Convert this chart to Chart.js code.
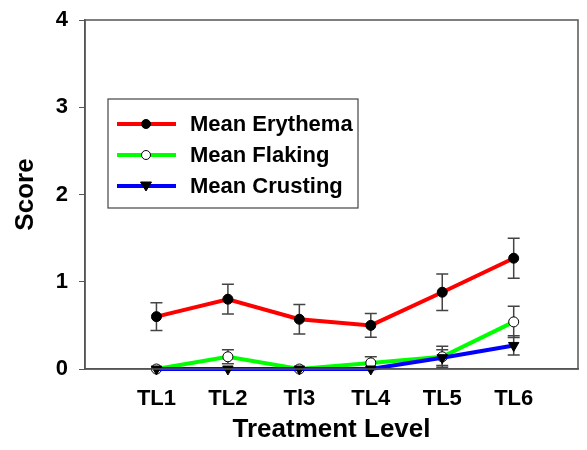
<!DOCTYPE html>
<html>
<head>
<meta charset="utf-8">
<script src="https://cdn.jsdelivr.net/npm/chart.js@4"></script>
<style>
  html, body { margin: 0; padding: 0; background: #fff; }
  #wrap { width: 587px; height: 450px; }
</style>
</head>
<body>
<div id="wrap"><canvas id="c" width="587" height="450"></canvas></div>
<script>
// Chart data
const levels = ["TL1", "TL2", "Tl3", "TL4", "TL5", "TL6"];
const erythema = [0.60, 0.80, 0.57, 0.50, 0.88, 1.27];
const erythemaErr = [0.16, 0.17, 0.17, 0.135, 0.21, 0.23];
const flaking = [0.0, 0.14, 0.0, 0.07, 0.14, 0.54];
const flakingErr = [0.0, 0.08, 0.0, 0.07, 0.12, 0.18];
const crusting = [0.0, 0.0, 0.0, 0.0, 0.13, 0.27];
const crustingErr = [0.0, 0.0, 0.0, 0.0, 0.09, 0.11];
const yTicks = [0, 1, 2, 3, 4];

const FONT = "'Liberation Sans', Arial, sans-serif";
const AXIS = '#555';

function toPoints(vals) {
    return vals.map((v, i) => ({ x: i + 1, y: v }));
}

// error bars, drawn through the chart's own scales
const errorBars = {
    id: 'errorBars',
    beforeDatasetsDraw(chart) {
        const { ctx, scales: { x, y } } = chart;
        ctx.save();
        ctx.strokeStyle = '#444';
        ctx.lineWidth = 1.5;
        chart.data.datasets.forEach(ds => {
            ds.data.forEach((p, i) => {
                const e = ds.err[i];
                if (!e) return;
                const px = x.getPixelForValue(p.x);
                const top = y.getPixelForValue(p.y + e);
                const bot = y.getPixelForValue(p.y - e);
                ctx.beginPath();
                ctx.moveTo(px, top); ctx.lineTo(px, bot);
                ctx.moveTo(px - 6, top); ctx.lineTo(px + 6, top);
                ctx.moveTo(px - 6, bot); ctx.lineTo(px + 6, bot);
                ctx.stroke();
            });
        });
        ctx.restore();
    }
};

// frame around plot area + legend box inside it
const frameAndLegend = {
    id: 'frameAndLegend',
    afterDraw(chart) {
        const { ctx, chartArea: a } = chart;
        ctx.save();
        ctx.strokeStyle = AXIS;
        ctx.lineWidth = 1.5;
        ctx.strokeRect(a.left, a.top, a.right - a.left, a.bottom - a.top);

        // legend
        const lx = 108, ly = 99, lw = 250, lh = 109;
        ctx.strokeStyle = '#444';
        ctx.lineWidth = 1.2;
        ctx.fillStyle = '#fff';
        ctx.fillRect(lx, ly, lw, lh);
        ctx.strokeRect(lx, ly, lw, lh);
        ctx.font = "bold 22px " + FONT;
        ctx.textBaseline = 'middle';
        chart.data.datasets.forEach((ds, i) => {
            const yy = ly + 25 + i * 31;
            ctx.strokeStyle = ds.borderColor;
            ctx.lineWidth = 4;
            ctx.beginPath();
            ctx.moveTo(117, yy); ctx.lineTo(176, yy);
            ctx.stroke();
            ctx.fillStyle = ds.pointBackgroundColor;
            ctx.strokeStyle = '#000';
            ctx.lineWidth = 1;
            ctx.beginPath();
            if (ds.pointStyle === 'triangle') {
                ctx.moveTo(140.5, yy - 4); ctx.lineTo(151.5, yy - 4); ctx.lineTo(146, yy + 5);
                ctx.closePath();
            } else {
                ctx.arc(146, yy, 4.5, 0, Math.PI * 2);
            }
            ctx.fill(); ctx.stroke();
            ctx.fillStyle = '#000';
            ctx.fillText(ds.label, 190, yy + 1);
        });
        ctx.restore();
    }
};

new Chart(document.getElementById('c'), {
    type: 'line',
    data: {
        datasets: [
            {
                label: 'Mean Erythema', data: toPoints(erythema), err: erythemaErr,
                borderColor: '#ff0000', pointBackgroundColor: '#000', pointStyle: 'circle',
                pointRadius: 5, order: 1
            },
            {
                label: 'Mean Flaking', data: toPoints(flaking), err: flakingErr,
                borderColor: '#00ff00', pointBackgroundColor: '#fff', pointStyle: 'circle',
                pointRadius: 5, order: 2
            },
            {
                label: 'Mean Crusting', data: toPoints(crusting), err: crustingErr,
                borderColor: '#0000ff', pointBackgroundColor: '#000', pointStyle: 'triangle',
                pointRotation: 180, pointRadius: 6, order: 0
            }
        ].map(ds => Object.assign({
            borderWidth: 4, pointBorderColor: '#000', pointBorderWidth: 1,
            tension: 0, clip: false
        }, ds))
    },
    options: {
        responsive: false,
        animation: false,
        layout: { padding: { top: 20, right: 9, left: 0, bottom: 0 } },
        plugins: { legend: { display: false }, tooltip: { enabled: false } },
        scales: {
            x: {
                type: 'linear', min: 0, max: 6.9,
                afterBuildTicks: s => { s.ticks = levels.map((_, i) => ({ value: i + 1 })); },
                afterFit: s => { s.height = 81; s.paddingLeft = 0; s.paddingRight = 0; },
                ticks: {
                    callback: v => levels[v - 1],
                    color: '#000', font: { family: FONT, size: 22, weight: 'bold' },
                    padding: 11, maxRotation: 0, autoSkip: false
                },
                grid: { display: false, drawOnChartArea: false, drawTicks: true, tickLength: 6, color: AXIS },
                border: { color: AXIS, width: 1.5 },
                title: {
                    display: true, text: 'Treatment Level', color: '#000',
                    font: { family: FONT, size: 26, weight: 'bold' }, padding: { top: 0, bottom: 5 }
                }
            },
            y: {
                min: 0, max: 4,
                afterBuildTicks: s => { s.ticks = yTicks.map(v => ({ value: v })); },
                afterFit: s => { s.width = 85; s.paddingTop = 0; s.paddingBottom = 0; },
                ticks: {
                    color: '#000', font: { family: FONT, size: 22, weight: 'bold' }, padding: 11
                },
                grid: { drawOnChartArea: false, drawTicks: true, tickLength: 6, color: AXIS },
                border: { color: AXIS, width: 1.5 },
                title: {
                    display: true, text: 'Score', color: '#000',
                    font: { family: FONT, size: 26, weight: 'bold' }, padding: { top: 10, bottom: 0 }
                }
            }
        }
    },
    plugins: [errorBars, frameAndLegend]
});
</script>
</body>
</html>
